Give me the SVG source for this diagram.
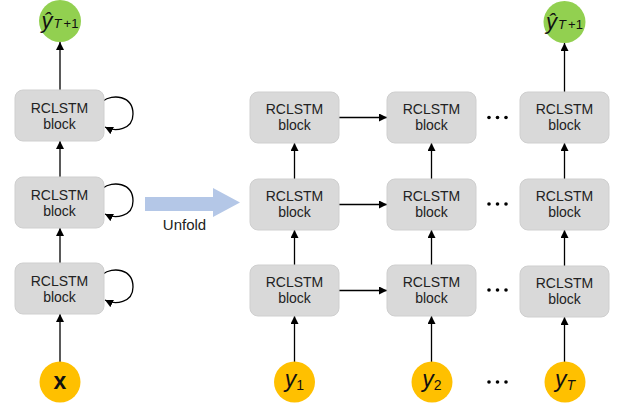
<svg xmlns="http://www.w3.org/2000/svg" width="619" height="409" viewBox="0 0 619 409">
<style>
.blk{fill:#D9D9D9;stroke:#CFCFCF;stroke-width:1}
.bt{font-family:"Liberation Sans",Arial,sans-serif;font-size:14px;fill:#222;text-anchor:middle}
.ln{stroke:#000;stroke-width:1.3;fill:none}
.out{fill:#92D050}
.in{fill:#FFC000}
.m{font-family:"Liberation Sans",Arial,sans-serif;fill:#111}
.dot{fill:#000}
</style>
<defs>
<marker id="ah" viewBox="0 0 10 10" refX="10" refY="5" markerWidth="8" markerHeight="8" markerUnits="userSpaceOnUse" orient="auto">
<path d="M0,0 L10,5 L0,10 z" fill="#000"/>
</marker>
</defs>

<g id="connectors">
<line class="ln" x1="60" y1="362" x2="60" y2="314" marker-end="url(#ah)"/>
<line class="ln" x1="60" y1="263" x2="60" y2="228" marker-end="url(#ah)"/>
<line class="ln" x1="60" y1="177" x2="60" y2="141" marker-end="url(#ah)"/>
<line class="ln" x1="60" y1="90" x2="60" y2="42" marker-end="url(#ah)"/>
<path class="ln" d="M103 101 C112 94,133 95,133 114 C133 130,115 132,105 127" marker-end="url(#ah)"/>
<path class="ln" d="M103 188 C112 181,133 182,133 201 C133 217,115 219,105 214" marker-end="url(#ah)"/>
<path class="ln" d="M103 274 C112 267,133 268,133 287 C133 303,115 305,105 300" marker-end="url(#ah)"/>

<line class="ln" x1="294.5" y1="362" x2="294.5" y2="316" marker-end="url(#ah)"/>
<line class="ln" x1="294.5" y1="265" x2="294.5" y2="230" marker-end="url(#ah)"/>
<line class="ln" x1="294.5" y1="179" x2="294.5" y2="143" marker-end="url(#ah)"/>
<line class="ln" x1="431.5" y1="362" x2="431.5" y2="316" marker-end="url(#ah)"/>
<line class="ln" x1="431.5" y1="265" x2="431.5" y2="230" marker-end="url(#ah)"/>
<line class="ln" x1="431.5" y1="179" x2="431.5" y2="143" marker-end="url(#ah)"/>
<line class="ln" x1="564.5" y1="362" x2="564.5" y2="317" marker-end="url(#ah)"/>
<line class="ln" x1="564.5" y1="266" x2="564.5" y2="230" marker-end="url(#ah)"/>
<line class="ln" x1="564.5" y1="179" x2="564.5" y2="143" marker-end="url(#ah)"/>
<line class="ln" x1="564.5" y1="92" x2="564.5" y2="43" marker-end="url(#ah)"/>

<line class="ln" x1="339" y1="117.5" x2="387" y2="117.5" marker-end="url(#ah)"/>
<line class="ln" x1="339" y1="204.5" x2="387" y2="204.5" marker-end="url(#ah)"/>
<line class="ln" x1="339" y1="290.5" x2="387" y2="290.5" marker-end="url(#ah)"/>
</g>

<g id="unfold">
<path d="M145 197 L213 197 L213 188 L240 202.5 L213 217 L213 211 L145 211 z" fill="#B4C7E7"/>
<text class="bt" x="184.5" y="229.5" style="font-size:15px">Unfold</text>
</g>

<g id="dots">
<circle class="dot" cx="489" cy="117.5" r="1.8"/><circle class="dot" cx="497.5" cy="117.5" r="1.8"/><circle class="dot" cx="506" cy="117.5" r="1.8"/>
<circle class="dot" cx="489" cy="204" r="1.8"/><circle class="dot" cx="497.5" cy="204" r="1.8"/><circle class="dot" cx="506" cy="204" r="1.8"/>
<circle class="dot" cx="489" cy="290" r="1.8"/><circle class="dot" cx="497.5" cy="290" r="1.8"/><circle class="dot" cx="506" cy="290" r="1.8"/>
<circle class="dot" cx="489" cy="382" r="1.8"/><circle class="dot" cx="497.5" cy="382" r="1.8"/><circle class="dot" cx="506" cy="382" r="1.8"/>
</g>

<g id="left-b1"><rect class="blk" x="15" y="90" width="89" height="51" rx="8"/><text class="bt" x="59.5" y="113">RCLSTM</text><text class="bt" x="59.5" y="129">block</text></g>
<g id="left-b2"><rect class="blk" x="15" y="177" width="89" height="51" rx="8"/><text class="bt" x="59.5" y="200">RCLSTM</text><text class="bt" x="59.5" y="216">block</text></g>
<g id="left-b3"><rect class="blk" x="15" y="263" width="89" height="51" rx="8"/><text class="bt" x="59.5" y="286">RCLSTM</text><text class="bt" x="59.5" y="302">block</text></g>

<g id="c1-b1"><rect class="blk" x="250" y="92" width="89" height="51" rx="8"/><text class="bt" x="294.5" y="113.5">RCLSTM</text><text class="bt" x="294.5" y="129.5">block</text></g>
<g id="c1-b2"><rect class="blk" x="250" y="179" width="89" height="51" rx="8"/><text class="bt" x="294.5" y="200.5">RCLSTM</text><text class="bt" x="294.5" y="216.5">block</text></g>
<g id="c1-b3"><rect class="blk" x="250" y="265" width="89" height="51" rx="8"/><text class="bt" x="294.5" y="286.5">RCLSTM</text><text class="bt" x="294.5" y="302.5">block</text></g>

<g id="c2-b1"><rect class="blk" x="387" y="92" width="89" height="51" rx="8"/><text class="bt" x="431.5" y="113.5">RCLSTM</text><text class="bt" x="431.5" y="129.5">block</text></g>
<g id="c2-b2"><rect class="blk" x="387" y="179" width="89" height="51" rx="8"/><text class="bt" x="431.5" y="200.5">RCLSTM</text><text class="bt" x="431.5" y="216.5">block</text></g>
<g id="c2-b3"><rect class="blk" x="387" y="265" width="89" height="51" rx="8"/><text class="bt" x="431.5" y="286.5">RCLSTM</text><text class="bt" x="431.5" y="302.5">block</text></g>

<g id="c3-b1"><rect class="blk" x="520" y="92" width="89" height="51" rx="8"/><text class="bt" x="564.5" y="113.5">RCLSTM</text><text class="bt" x="564.5" y="129.5">block</text></g>
<g id="c3-b2"><rect class="blk" x="520" y="179" width="89" height="51" rx="8"/><text class="bt" x="564.5" y="200.5">RCLSTM</text><text class="bt" x="564.5" y="216.5">block</text></g>
<g id="c3-b3"><rect class="blk" x="520" y="266" width="89" height="51" rx="8"/><text class="bt" x="564.5" y="287.5">RCLSTM</text><text class="bt" x="564.5" y="303.5">block</text></g>

<g id="out-left"><circle class="out" cx="60" cy="21" r="21"/><text class="m" x="60" y="28" text-anchor="middle"><tspan font-size="22" font-style="italic">ŷ</tspan><tspan font-size="13" font-style="italic" dx="1">T</tspan><tspan font-size="13" dx="2">+1</tspan></text></g>
<g id="out-right"><circle class="out" cx="564.5" cy="22" r="21"/><text class="m" x="564.5" y="29" text-anchor="middle"><tspan font-size="22" font-style="italic">ŷ</tspan><tspan font-size="13" font-style="italic" dx="1">T</tspan><tspan font-size="13" dx="2">+1</tspan></text></g>

<g id="in-x"><circle class="in" cx="60" cy="382" r="20.5"/><text class="m" x="60" y="389" text-anchor="middle" font-size="23" font-weight="bold">x</text></g>
<g id="in-y1"><circle class="in" cx="294.5" cy="382" r="20.5"/><text class="m" x="294.5" y="387" text-anchor="middle"><tspan font-size="23" font-style="italic">y</tspan><tspan font-size="14" dy="3">1</tspan></text></g>
<g id="in-y2"><circle class="in" cx="432" cy="382" r="20.5"/><text class="m" x="432" y="387" text-anchor="middle"><tspan font-size="23" font-style="italic">y</tspan><tspan font-size="14" dy="3">2</tspan></text></g>
<g id="in-yT"><circle class="in" cx="565" cy="382" r="20.5"/><text class="m" x="565" y="387" text-anchor="middle"><tspan font-size="23" font-style="italic">y</tspan><tspan font-size="14" font-style="italic" dy="3">T</tspan></text></g>
</svg>
